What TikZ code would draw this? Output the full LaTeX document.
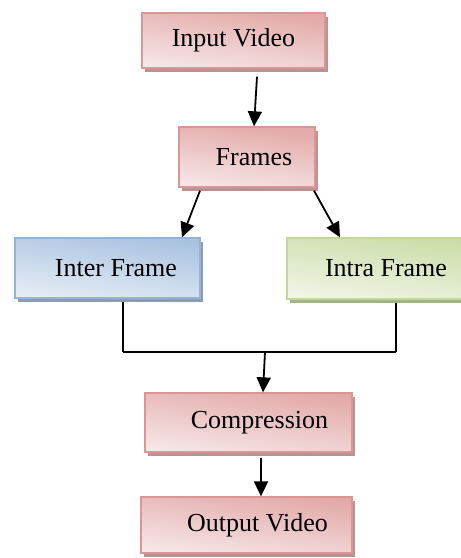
\documentclass[tikz,border=0pt]{standalone}
\usepackage{fontspec}
\setmainfont{Liberation Serif}
\usetikzlibrary{shadows,calc,arrows.meta}

\definecolor{pinkedge}{HTML}{D99694}
\definecolor{pinkdark}{HTML}{E2A9A8}
\definecolor{pinklight}{HTML}{F6E6E6}
\definecolor{pinkshadow}{HTML}{B89393}
\definecolor{blueedge}{HTML}{95B3D7}
\definecolor{bluedark}{HTML}{A9C2E0}
\definecolor{bluelight}{HTML}{E4ECF5}
\definecolor{blueshadow}{HTML}{8C9DB2}
\definecolor{greenedge}{HTML}{C3D69B}
\definecolor{greendark}{HTML}{CBDDA9}
\definecolor{greenlight}{HTML}{F0F5E6}
\definecolor{greenshadow}{HTML}{A5B38C}

\tikzset{
  box/.style={rectangle, inner sep=0pt, line width=1.3pt,
    font=\fontsize{26}{30}\selectfont, text=black},
  pinkbox/.style={box, draw=pinkedge, top color=pinkdark, bottom color=pinklight,
    shading angle=-8,
    general shadow={fill=pinkshadow, shadow xshift=3pt, shadow yshift=-4pt}},
  bluebox/.style={box, draw=blueedge, top color=bluedark, bottom color=bluelight,
    shading angle=-8,
    general shadow={fill=blueshadow, shadow xshift=3pt, shadow yshift=-4pt}},
  greenbox/.style={box, draw=greenedge, top color=greendark, bottom color=greenlight,
    shading angle=-8,
    general shadow={fill=greenshadow, shadow xshift=3pt, shadow yshift=-4pt}},
  arr/.style={line width=1.8pt, -{Triangle[length=15pt,width=14pt]}},
  wire/.style={line width=1.2pt}
}

\begin{document}
\begin{tikzpicture}[x=1pt,y=-1pt]
  \useasboundingbox (0,0) rectangle (461,558);

  \node[pinkbox, minimum width=183pt, minimum height=55pt] (input)
    at (233.5,40.5) {Input Video};
  \node[pinkbox, minimum width=136pt, minimum height=60pt] (frames)
    at (247,157) {\hspace*{14pt}Frames};
  \node[bluebox, minimum width=185pt, minimum height=60pt] (inter)
    at (107.5,268) {\hspace*{17pt}Inter Frame};
  \node[greenbox, minimum width=176pt, minimum height=61pt] (intra)
    at (375,268.5) {\hspace*{22pt}Intra Frame};
  \node[pinkbox, minimum width=207pt, minimum height=59pt] (comp)
    at (248.5,422.5) {\hspace*{22pt}Compression};
  \node[pinkbox, minimum width=211pt, minimum height=56pt] (output)
    at (246.5,525) {\hspace*{22pt}Output Video};

  % junction where the two frame branches meet
  \coordinate (jl) at (123,352);
  \coordinate (jr) at (396,352);
  \coordinate (jm) at (265,352);

  \draw[arr] ($(input.south)+(23.5,8)$) -- ($(frames.north)+(7,0)$);
  \draw[arr] ($(frames.south)+(-47,3)$) -- ($(inter.north)+(74.5,0)$);
  \draw[arr] ($(frames.south)+(67,3)$) -- ($(intra.north)+(-35,0)$);

  \draw[wire] ($(inter.south)+(15.5,3)$) -- (jl);
  \draw[wire] ($(intra.south)+(21,3)$) -- (jr);
  \draw[wire] (jl) -- (jr);

  \draw[arr] (jm) -- ($(comp.north)+(14.5,0)$);
  \draw[arr] ($(comp.south)+(12.5,5)$) -- ($(output.north)+(14.5,0)$);
\end{tikzpicture}
\end{document}
